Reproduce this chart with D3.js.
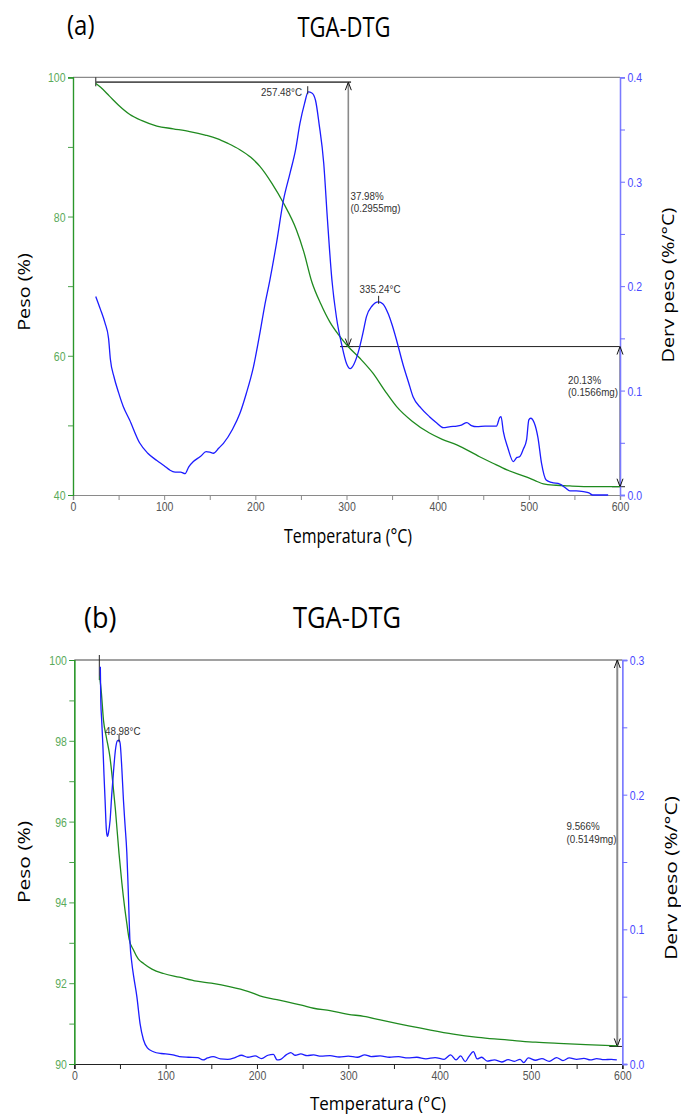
<!DOCTYPE html>
<html><head><meta charset="utf-8">
<script src="https://cdn.jsdelivr.net/npm/d3@7"></script>
<style>body{margin:0;background:#fff} svg{display:block}</style>
</head><body>
<svg id="chart" width="681" height="1118"></svg>
<script>
// ---------------- data ----------------
const tempTicks = [0,100,200,300,400,500,600];
const tempMinor = [50,150,250,350,450,550];

const aWeightTicks = [40,60,80,100];
const aWeightMinor = [50,70,90];
const aDerivTicks = [0,0.1,0.2,0.3,0.4];
const aDerivMinor = [0.05,0.15,0.25,0.35];

const bWeightTicks = [90,92,94,96,98,100];
const bWeightMinor = [91,93,95,97,99];
const bDerivTicks = [0,0.1,0.2,0.3];
const bDerivMinor = [0.05,0.15,0.25];

// panel (a) TGA curve
const aTgaTemp   = [25,30,40,50,62,75,92,110,128,145,158,170,183,195,205,218,231,245,253,262,272,282,292,302,315,329,342,355,372,391,405,421,446,460,476,497,508,516,530,545,570,600];
const aTgaWeight = [99.1,98.6,97.3,96.0,94.7,93.8,93.0,92.6,92.2,91.7,91.2,90.5,89.6,88.5,87.2,84.8,81.9,78.1,75.0,70.6,67.4,64.8,62.9,61.3,59.6,57.5,55.0,52.7,50.6,48.9,48.0,47.2,45.5,44.6,43.6,42.6,42.0,41.6,41.4,41.3,41.2,41.2];

// panel (a) DTG curve
const aDtgTemp  = [25,30,35,39,41,45,50,55,62,73,82,92,100,106,112,118,123,127,132,140,146,150,154,160,165,175,183,190,198,205,210,216,223,231,238,244,249,254,258,262,266,270,275,279,284,289,295,300,304,308,313,318,322,328,335,340,346,350,355,362,368,373,382,391,399,406,414,421,426,432,437,443,452,458,464.5,468,469.5,472,477,483,487,490,494,497.5,500,502,506,510,514,519,525,534,540,545,552,560,566,570,578,587];
const aDtgDeriv = [0.190,0.178,0.165,0.150,0.130,0.113,0.098,0.085,0.072,0.050,0.040,0.033,0.028,0.024,0.022,0.022,0.0205,0.027,0.032,0.037,0.0415,0.041,0.040,0.045,0.0495,0.063,0.078,0.097,0.123,0.155,0.180,0.206,0.240,0.283,0.308,0.330,0.356,0.375,0.386,0.385,0.378,0.355,0.318,0.265,0.206,0.170,0.143,0.126,0.121,0.125,0.137,0.155,0.171,0.181,0.185,0.183,0.173,0.163,0.148,0.125,0.108,0.094,0.083,0.075,0.069,0.0645,0.0655,0.066,0.067,0.0693,0.0665,0.0654,0.066,0.066,0.066,0.074,0.075,0.061,0.045,0.032,0.036,0.0367,0.044,0.0527,0.072,0.0735,0.069,0.055,0.030,0.0144,0.012,0.0105,0.007,0.004,0.004,0.0032,0.002,0.0,0.0,0.0];

// panel (b) TGA curve
const bTgaTemp   = [27.7,29.6,32,35,39,42,45,49,52,55,57.5,60,64.8,70,75.8,85,97.7,115,134,150,171,190,207,220,233,250,262,280,300,317,335,354,372,390,415,442,460,482,505,530,560,595];
const bTgaWeight = [99.6,99.2,98.5,98.1,97.6,97.0,96.3,95.2,94.5,93.9,93.48,93.1,92.82,92.6,92.49,92.35,92.24,92.15,92.05,92.0,91.91,91.8,91.66,91.6,91.54,91.45,91.38,91.32,91.23,91.18,91.09,91.0,90.92,90.84,90.74,90.66,90.62,90.58,90.54,90.51,90.48,90.45];

// panel (b) DTG curve
const bDtgTemp  = [28.5,29,30,31.2,32.5,33.7,35,35.8,36.5,37.5,39.2,41,42.8,45,47.2,49,50.2,52,53.8,55.5,57.5,59,61,63,65,68.5,72,75.7,80,86.7,95,100,108,115,125,135,141,146,152,160,168,176,183,190,198,205,212,218,222,226,232,237,242,248,255,262,270,280,290,300,310,318,325,335,345,355,365,375,385,395,405,412,418,423,428,432,437,441,446,452,460,468,475,482,488,492,497,505,512,520,528,535,542,550,558,565,572,580,588,594];
const bDtgDeriv = [0.295,0.27,0.255,0.238,0.215,0.196,0.175,0.170,0.169,0.172,0.181,0.200,0.216,0.233,0.240,0.2405,0.238,0.220,0.196,0.178,0.157,0.130,0.090,0.075,0.065,0.050,0.030,0.018,0.012,0.0091,0.0078,0.0075,0.0067,0.0055,0.005,0.0047,0.003,0.0045,0.0055,0.0038,0.0035,0.0048,0.0065,0.005,0.006,0.004,0.0065,0.0072,0.003,0.0035,0.0068,0.0085,0.0065,0.0075,0.0062,0.0068,0.0058,0.0062,0.0052,0.0058,0.005,0.0068,0.0055,0.006,0.005,0.0055,0.0045,0.005,0.0038,0.0048,0.0035,0.0068,0.003,0.006,0.0018,0.0055,0.0092,0.0038,0.005,0.0022,0.003,0.0015,0.0032,0.002,0.0035,0.001,0.0045,0.0028,0.004,0.002,0.0048,0.0025,0.0045,0.0035,0.0042,0.003,0.004,0.0032,0.0035,0.003];

// step annotations (temperature of marker, start weight, loss %, loss mg)
const aStepTemp  = [302, 600];
const aStepStart = [99.3, 61.32];
const aStepLoss  = ["37.98%", "20.13%"];
const aStepMass  = ["(0.2955mg)", "(0.1566mg)"];
const aPeakTemp  = [257.48, 335.24];
const aPeakDeriv = [0.3857, 0.185];
const aPeakLabel = ["257.48°C", "335.24°C"];

const bStepTemp  = [594.5];
const bStepStart = [100];
const bStepLoss  = ["9.566%"];
const bStepMass  = ["(0.5149mg)"];
const bPeakTemp  = [48.98];
const bPeakDeriv = [0.2405];
const bPeakLabel = ["48.98°C"];

// ---------------- drawing ----------------
const svg = d3.select("#chart");
const TGA_COLOR = "#1f8a1f", DTG_COLOR = "#1c1cff";
const ARIAL = "'Liberation Sans', Arial, sans-serif";
const SANS = "'Open Sans', 'Noto Sans', sans-serif";

function sText(g, x, y, str, o) {
  const tr = o.rotate
    ? `translate(${x},${y}) rotate(-90) scale(${o.s},1)`
    : `translate(${x},${y}) scale(1,${o.s})`;
  return g.append("text").attr("transform", tr)
    .attr("text-anchor", o.anchor || "start")
    .attr("font-family", o.family || SANS)
    .attr("font-size", o.size)
    .attr("fill", o.fill || "#000")
    .text(str);
}

function arrow(g, x, y, up) {
  const d = up ? 8 : -8;
  g.append("path").attr("d", `M${x-3},${y+d} L${x},${y} L${x+3},${y+d}`)
    .attr("fill", "none").attr("stroke", "#111").attr("stroke-width", 1);
}

function panel(c) {
  const g = svg.append("g");
  const x = d3.scaleLinear().domain([0, 600]).range([c.left, c.right]);
  const yL = d3.scaleLinear().domain(c.wDomain).range([c.bottom, c.top]);
  const yR = d3.scaleLinear().domain(c.dDomain).range([c.bottom, c.top]);
  const TS = 1.2;

  // top frame
  g.append("line").attr("x1", c.left).attr("x2", c.right).attr("y1", c.top).attr("y2", c.top)
    .attr("stroke", c.frameColor).attr("stroke-width", 1.2);

  // annotations (behind axes)
  const ann = g.append("g");
  ann.append("line").attr("x1", x(c.startT)).attr("x2", x(c.startT))
    .attr("y1", c.top - c.startUp).attr("y2", c.top + c.startDown)
    .attr("stroke", "#222").attr("stroke-width", 1);
  c.stepTemp.forEach((t, i) => {
    const wTop = c.stepStart[i];
    const wBot = wTop - parseFloat(c.stepLoss[i]);
    const xx = x(t);
    if (c.hLines[i]) {
      ann.append("line").attr("x1", x(c.hLines[i][0])).attr("x2", x(c.hLines[i][1]))
        .attr("y1", yL(wTop)).attr("y2", yL(wTop))
        .attr("stroke", c.hColor[i]).attr("stroke-width", c.hWidth[i]);
    }
    ann.append("line").attr("x1", xx).attr("x2", xx).attr("y1", yL(wTop)).attr("y2", yL(wBot))
      .attr("stroke", "#8a8a8a").attr("stroke-width", c.vWidth);
    ann.append("line").attr("x1", xx - 8).attr("x2", xx + 5).attr("y1", yL(wBot)).attr("y2", yL(wBot))
      .attr("stroke", "#222").attr("stroke-width", 1);
    const lp = c.stepLabelPos[i];
    sText(ann, lp[0], lp[1], c.stepLoss[i], {family: ARIAL, size: 9.8, s: TS, fill: "#333"});
    sText(ann, lp[0], lp[1] + 12.5, c.stepMass[i], {family: ARIAL, size: 9.8, s: TS, fill: "#333"});
  });

  // axes
  const xAxis = g.append("g").attr("transform", `translate(0,${c.bottom})`);
  xAxis.call(d3.axisBottom(x).tickValues(tempTicks).tickSize(5).tickFormat(d3.format("d")));
  xAxis.append("g").call(d3.axisBottom(x).tickValues(tempMinor).tickSize(5).tickFormat(""));
  xAxis.selectAll("path.domain").attr("stroke", c.xAxisColor).attr("stroke-width", 1.2);
  xAxis.selectAll("line").attr("stroke", c.xAxisColor);
  xAxis.selectAll("text").attr("y", null).attr("dy", null)
    .attr("transform", `translate(0,16) scale(1,${TS})`)
    .attr("font-family", ARIAL).attr("font-size", 10.5).attr("fill", "#555");

  const lAxis = g.append("g").attr("transform", `translate(${c.left},0)`);
  lAxis.call(d3.axisLeft(yL).tickValues(c.wTicks).tickSize(5).tickFormat(d3.format("d")));
  lAxis.append("g").call(d3.axisLeft(yL).tickValues(c.wMinor).tickSize(5).tickFormat(""));
  lAxis.selectAll("path.domain").attr("stroke", "#2a962a").attr("stroke-width", 1.2);
  lAxis.selectAll("line").attr("stroke", "#4aa04a");
  lAxis.selectAll("text").attr("x", null).attr("dy", null)
    .attr("transform", `translate(-7.5,4.5) scale(1,${TS})`)
    .attr("font-family", ARIAL).attr("font-size", 10.5).attr("fill", "#5aaa5a");

  const rAxis = g.append("g").attr("transform", `translate(${c.right},0)`);
  rAxis.call(d3.axisRight(yR).tickValues(c.dTicks).tickSize(5).tickFormat(d3.format(".1f")));
  rAxis.append("g").call(d3.axisRight(yR).tickValues(c.dMinor).tickSize(5).tickFormat(""));
  rAxis.selectAll("path.domain").attr("stroke", "#7a7aff").attr("stroke-width", 1.3);
  rAxis.selectAll("line").attr("stroke", "#6a6aff");
  rAxis.selectAll("text").attr("x", null).attr("dy", null)
    .attr("transform", `translate(7.5,4.5) scale(1,${TS})`)
    .attr("font-family", ARIAL).attr("font-size", 10.5).attr("fill", "#4a4aff");

  // arrowheads sit above the axes
  const ann2 = g.append("g");
  c.stepTemp.forEach((t, i) => {
    const wTop = c.stepStart[i];
    const wBot = wTop - parseFloat(c.stepLoss[i]);
    arrow(ann2, x(t), yL(wTop), true);
    arrow(ann2, x(t), yL(wBot), false);
  });

  // curves
  const tga = c.tgaT.map((t, i) => [t, c.tgaW[i]]);
  const dtg = c.dtgT.map((t, i) => [t, c.dtgD[i]]);
  g.append("path").datum(tga)
    .attr("d", d3.line().x(d => x(d[0])).y(d => yL(d[1])).curve(d3.curveMonotoneX))
    .attr("fill", "none").attr("stroke", TGA_COLOR).attr("stroke-width", 1.3);
  g.append("path").datum(dtg)
    .attr("d", d3.line().x(d => x(d[0])).y(d => yR(d[1])).curve(d3.curveMonotoneX))
    .attr("fill", "none").attr("stroke", DTG_COLOR).attr("stroke-width", 1.3);

  // peak labels
  c.peakT.forEach((t, i) => {
    const px = x(t), py = yR(c.peakD[i]);
    g.append("line").attr("x1", px).attr("x2", px).attr("y1", py - 6).attr("y2", py + 2)
      .attr("stroke", "#222").attr("stroke-width", 1);
    const lp = c.peakLabelPos[i];
    sText(g, lp[0], lp[1], c.peakLabel[i], {family: ARIAL, size: 9.8, s: TS, fill: "#333", anchor: lp[2]});
  });

  // titles
  sText(g, c.tagPos[0], c.tagPos[1], c.tag, {size: c.tagSize, s: c.tagS});
  sText(g, c.titlePos[0], c.titlePos[1], "TGA-DTG", {size: c.titleSize, s: c.titleS, anchor: "middle"});
  sText(g, c.xLabPos[0], c.xLabPos[1], "Temperatura (°C)", {size: c.xLabSize, s: c.xLabS, anchor: "middle"});
  sText(g, c.yLabPos[0], c.yLabPos[1], "Peso (%)", {size: c.labSize, s: c.labS, anchor: "middle", rotate: true});
  sText(g, c.y2LabPos[0], c.y2LabPos[1], "Derv peso (%/°C)", {size: c.labSize, s: c.labS, anchor: "middle", rotate: true});
}

panel({
  left: 73, right: 620, top: 77.3, bottom: 495,
  wDomain: [40, 100], dDomain: [0, 0.4],
  wTicks: aWeightTicks, wMinor: aWeightMinor, dTicks: aDerivTicks, dMinor: aDerivMinor,
  tgaT: aTgaTemp, tgaW: aTgaWeight, dtgT: aDtgTemp, dtgD: aDtgDeriv,
  frameColor: "#8a8a8a", xAxisColor: "#8a8a8a",
  startT: 25, startUp: 0, startDown: 9,
  stepTemp: aStepTemp, stepStart: aStepStart, stepLoss: aStepLoss, stepMass: aStepMass,
  hLines: [[25, 305], [293, 600]], hColor: ["#555", "#222"], hWidth: [1.6, 1],
  vWidth: 1.6,
  stepLabelPos: [[350.5, 199.5], [568, 383.5]],
  peakT: aPeakTemp, peakD: aPeakDeriv, peakLabel: aPeakLabel,
  peakLabelPos: [[302, 96, "end"], [380, 292.5, "middle"]],
  tag: "(a)", tagPos: [67, 35], tagSize: 24, tagS: 1.1,
  titlePos: [344, 36.7], titleSize: 22, titleS: 1.27,
  xLabPos: [348, 543.3], xLabSize: 16, xLabS: 1.2,
  yLabPos: [29.5, 292], y2LabPos: [674, 285],
  labSize: 16, labS: 1.24
});

panel({
  left: 74.3, right: 622.3, top: 660, bottom: 1064,
  wDomain: [90, 100], dDomain: [0, 0.3],
  wTicks: bWeightTicks, wMinor: bWeightMinor, dTicks: bDerivTicks, dMinor: bDerivMinor,
  tgaT: bTgaTemp, tgaW: bTgaWeight, dtgT: bDtgTemp, dtgD: bDtgDeriv,
  frameColor: "#444", xAxisColor: "#222",
  startT: 27.4, startUp: 5, startDown: 20,
  stepTemp: bStepTemp, stepStart: bStepStart, stepLoss: bStepLoss, stepMass: bStepMass,
  hLines: [null], hColor: [null], hWidth: [null],
  vWidth: 2,
  stepLabelPos: [[566.5, 830]],
  peakT: bPeakTemp, peakD: bPeakDeriv, peakLabel: bPeakLabel,
  peakLabelPos: [[105, 735, "start"]],
  tag: "(b)", tagPos: [84, 628], tagSize: 27, tagS: 1.1,
  titlePos: [347, 628], titleSize: 25.5, titleS: 1.15,
  xLabPos: [378, 1110], xLabSize: 17, xLabS: 1.12,
  yLabPos: [30, 862], y2LabPos: [676.5, 878],
  labSize: 17.2, labS: 1.22
});
</script>
</body></html>
